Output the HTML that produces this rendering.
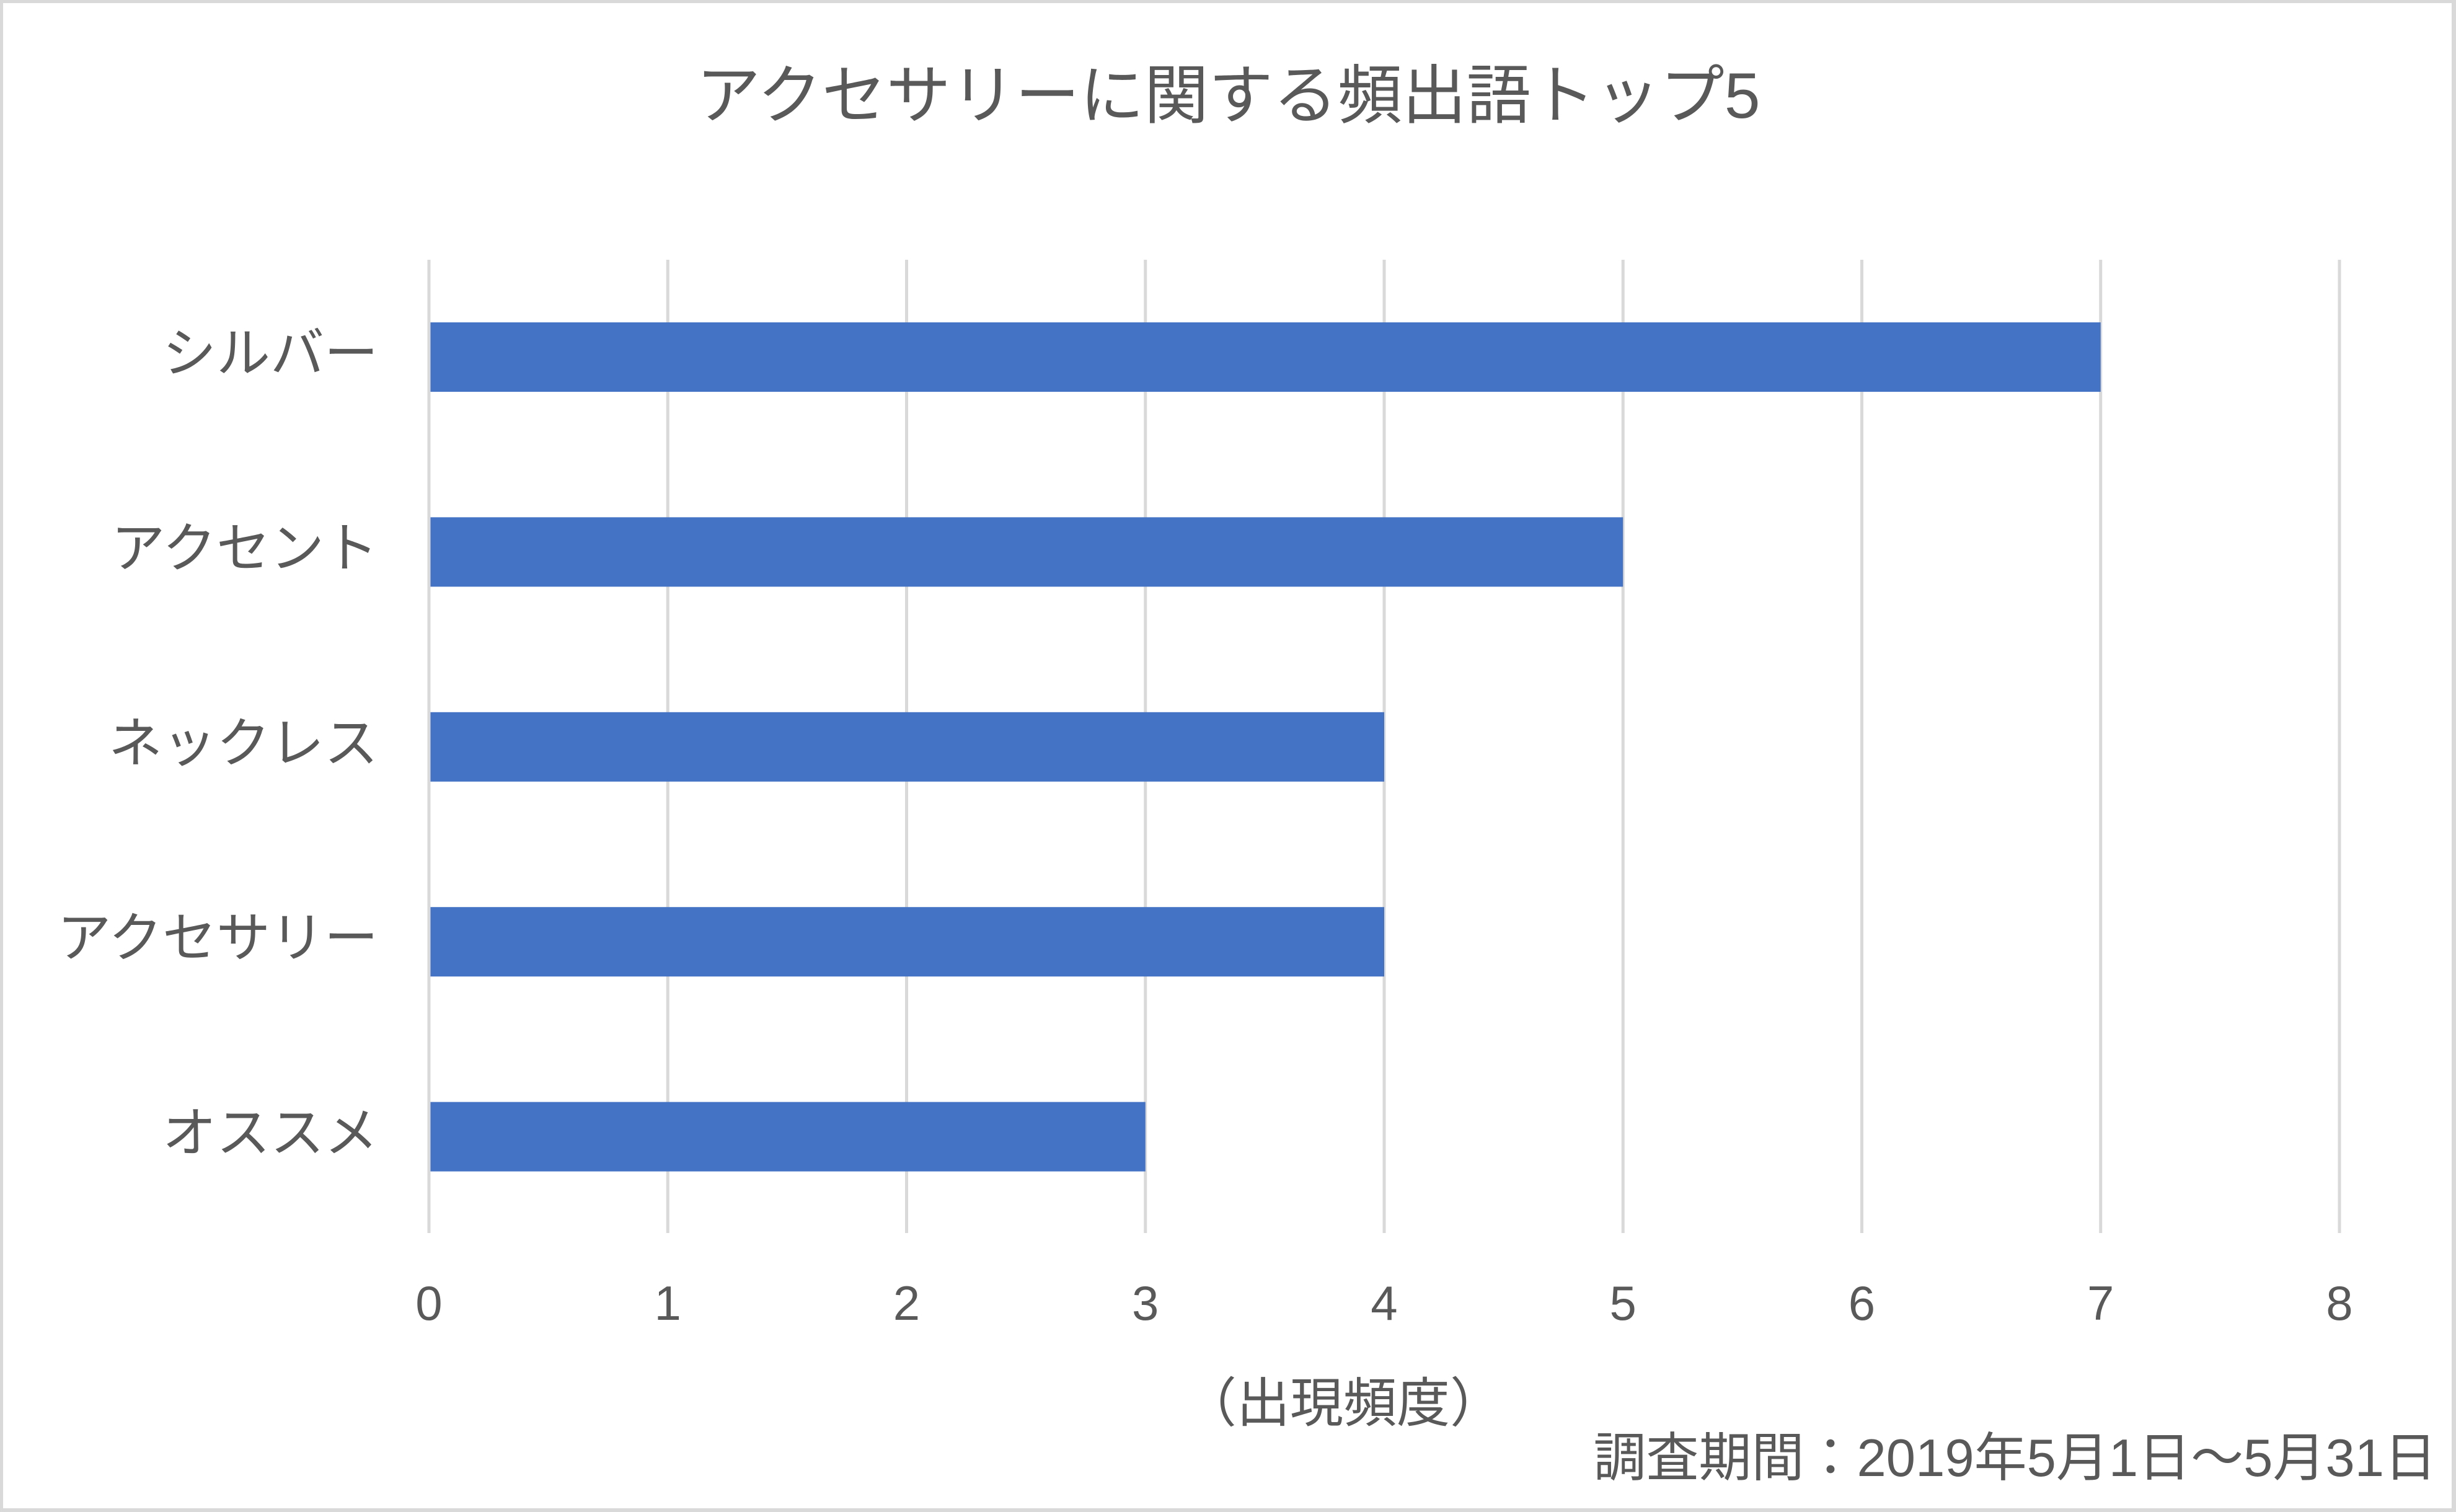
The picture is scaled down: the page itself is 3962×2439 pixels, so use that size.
<!DOCTYPE html>
<html>
<head>
<meta charset="utf-8">
<style>
html,body{margin:0;padding:0;background:#fff;}
svg{display:block;}
text{font-family:"Liberation Sans","Noto Sans CJK JP",sans-serif;fill:#595959;}
</style>
</head>
<body>
<svg width="3962" height="2439" viewBox="0 0 3962 2439" xmlns="http://www.w3.org/2000/svg">
  <rect x="0" y="0" width="3962" height="2439" fill="#D9D9D9"/>
  <rect x="5" y="5" width="3950" height="2428" fill="#FFFFFF"/>

  <!-- title -->
  <text x="1123" y="190" font-size="104">アクセサリーに関する頻出語トップ5</text>

  <!-- gridlines -->
  <g fill="#D9D9D9">
    <rect x="689.5" y="419" width="5" height="1570"/>
    <rect x="1074.75" y="419" width="5" height="1570"/>
    <rect x="1460" y="419" width="5" height="1570"/>
    <rect x="1845.25" y="419" width="5" height="1570"/>
    <rect x="2230.5" y="419" width="5" height="1570"/>
    <rect x="2615.75" y="419" width="5" height="1570"/>
    <rect x="3001" y="419" width="5" height="1570"/>
    <rect x="3386.25" y="419" width="5" height="1570"/>
    <rect x="3771.5" y="419" width="5" height="1570"/>
  </g>

  <!-- bars -->
  <g fill="#4472C4">
    <rect x="694.5" y="520" width="2694.25" height="112"/>
    <rect x="694.5" y="834.4" width="1923.75" height="112"/>
    <rect x="694.5" y="1148.8" width="1538.5" height="112"/>
    <rect x="694.5" y="1463.2" width="1538.5" height="112"/>
    <rect x="694.5" y="1777.6" width="1153.25" height="112"/>
  </g>

  <!-- category labels -->
  <g font-size="87" text-anchor="end">
    <text x="610" y="600">シルバー</text>
    <text x="610" y="914.4">アクセント</text>
    <text x="610" y="1228.8">ネックレス</text>
    <text x="610" y="1543.2">アクセサリー</text>
    <text x="610" y="1857.6">オススメ</text>
  </g>

  <!-- tick labels -->
  <g font-size="78" text-anchor="middle">
    <text x="692" y="2129">0</text>
    <text x="1077.25" y="2129">1</text>
    <text x="1462.5" y="2129">2</text>
    <text x="1847.75" y="2129">3</text>
    <text x="2233" y="2129">4</text>
    <text x="2618.25" y="2129">5</text>
    <text x="3003.5" y="2129">6</text>
    <text x="3388.75" y="2129">7</text>
    <text x="3774" y="2129">8</text>
  </g>

  <!-- axis title -->
  <text x="2167" y="2293" font-size="86" text-anchor="middle">（出現頻度）</text>

  <!-- footnote -->
  <text x="3931" y="2381" font-size="85" text-anchor="end">調査期間：2019年5月1日～5月31日</text>
</svg>
</body>
</html>
